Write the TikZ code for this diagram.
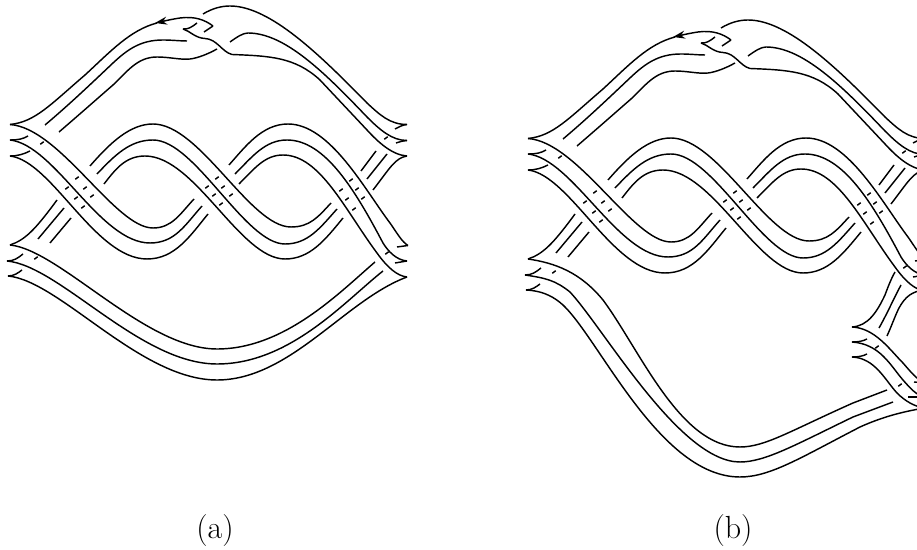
\documentclass[tikz,border=0pt]{standalone}
\usepackage{tikz}
\usetikzlibrary{arrows.meta}
\tikzset{
    strand/.style={line width=.72pt},
    lbl/.style={inner sep=0pt, font=\fontsize{16}{19}\selectfont},
    braid/.pic={
        % top arc
        \draw[strand] (10,124.5) .. controls (35,122) and (50,105) .. (85,75) .. controls (110,52) and (130,30) .. (157,23);
        \draw[strand, -{Stealth[length=6pt,width=4pt]}] (213,26) .. controls (205,20) and (195,16) .. (180,18) .. controls (170,19.5) and (160,22) .. (155,23);
        \draw[strand] (213,26) -- (204,32);
        \draw[strand] (45,125) .. controls (70,104) and (95,80) .. (113,63) .. controls (127,50) and (140,40) .. (163,40) .. controls (172,40) and (180,41) .. (187,41);
        \draw[strand] (59,132) .. controls (80,114) and (98,98) .. (113,85) .. controls (127,72) and (137,57) .. (157,57) .. controls (170,57) and (180,60) .. (190,59) .. controls (198,58) and (208,54) .. (217,49);
        \draw[strand] (183,29) .. controls (188,29.5) and (192,27) .. (197,23);
        \draw[strand] (183,29) .. controls (190,31) and (195,38) .. (205,38.5) .. controls (217,39) and (222,52) .. (232,54.5) .. controls (270,56) and (295,57) .. (320,80) .. controls (335,96) and (352,114) .. (367,130) .. controls (378,142) and (392,155) .. (407,156);
        \draw[strand] (203,14) .. controls (213,8) and (222,6) .. (230,6) .. controls (270,6) and (320,55) .. (367,103) .. controls (380,115) and (390,124.5) .. (407,124.5);
        \draw[strand] (407,124.5) .. controls (402,125) and (399,127) .. (395,129);
        \draw[strand] (230,42) .. controls (237,37) and (243,33) .. (248,33) .. controls (285,33) and (325,73) .. (367,117) .. controls (380,130) and (392,140.5) .. (407,140.5);
        \draw[strand] (407,140.5) .. controls (402,141) and (399,142) .. (396,143);
        % left cusps, first crossing
        \draw[strand] (10,124.5) .. controls (60,128) and (115,228) .. (153,228) .. controls (172,228) and (180,214) .. (194,199);
        \draw[strand] (10,140) .. controls (55,145) and (100,243) .. (150,243) .. controls (175,243) and (185,225) .. (202,206);
        \draw[strand] (10,156) .. controls (52,161) and (95,259) .. (147,259) .. controls (175,259) and (190,236) .. (208,214);
        \draw[strand] (10,140) .. controls (18,140) and (23,139) .. (28,136);
        \draw[strand] (10,156) .. controls (18,156) and (24,154) .. (30,151);
        % first crest
        \draw[strand] (90,166) .. controls (110,143) and (130,124) .. (153,124) .. controls (200,124) and (250,227) .. (291,227) .. controls (310,227) and (318,217) .. (331,203);
        \draw[strand] (97,174) .. controls (115,155) and (130,140) .. (153,140) .. controls (195,140) and (245,244) .. (285,244) .. controls (308,244) and (320,228) .. (337,209);
        \draw[strand] (104,184) .. controls (115,170) and (125,156) .. (145,156) .. controls (195,156) and (240,259) .. (285,259) .. controls (310,259) and (325,240) .. (343,218);
        % second crest
        \draw[strand] (229,165) .. controls (245,147) and (262,124) .. (288,124) .. controls (330,124) and (365,190) .. (390,223) .. controls (397,233) and (402,242) .. (408,245.5);
        \draw[strand] (235,174) .. controls (252,157) and (265,140) .. (287,140) .. controls (325,140) and (355,190) .. (383,243) .. controls (388,251) and (396,260) .. (407,261);
        \draw[strand] (239,184) .. controls (255,168) and (265,155) .. (283,155) .. controls (320,155) and (345,210) .. (377,253) .. controls (387,267) and (397,276) .. (407,277);
        \draw[strand] (408,245.5) -- (397,247);
        \draw[strand] (407,261) -- (395,263);
        % right strands behind
        \draw[strand] (376,151) -- (361,171);
        \draw[strand] (387,154) -- (367,179);
        \draw[strand] (407,156) .. controls (395,158) and (390,168) .. (373,190);
        % lower left strands behind
        \draw[strand] (10,245) .. controls (25,240) and (35,230) .. (57,200);
        \draw[strand] (64,208) -- (38,239);
        \draw[strand] (71,218) -- (50,243);
        \draw[strand] (7,261) .. controls (14,261) and (18,258) .. (23,254);
        \draw[strand] (8,276) .. controls (14,276) and (18,273) .. (22,270);
        % short pieces
        \foreach \x/\y in {42/143, 77/178, 67/188, 85/188, 76/198, 92/196, 83/207,
                           217/178, 207/187, 223/187, 214/195, 231/195, 221/204,
                           351/180, 341/190, 357/189, 347/199, 363/198, 354/209,
                           386/138, 387/253, 36/258}
            \draw[strand] (\x-1.7,\y+1.3) -- (\x+1.7,\y-1.3);
    }
}
\begin{document}
\begin{tikzpicture}[x=.5pt, y=-.5pt]
\clip (0,0) rectangle (917,550);
\pic at (0,0) {braid};
\pic at (518,14) {braid};
% bottom of (a)
\draw[strand] (10,245) .. controls (60,250) and (145,349) .. (217,349) .. controls (285,349) and (340,292) .. (375,262);
\draw[strand] (7,261) .. controls (60,266) and (140,364) .. (217,364) .. controls (290,364) and (345,301) .. (383,271);
\draw[strand] (8,276) .. controls (60,281) and (140,380) .. (217,380) .. controls (290,380) and (345,300) .. (407,277);
% bottom of (b)
\draw[strand] (528,259) .. controls (555,263) and (580,272) .. (603,300) .. controls (640,350) and (680,447) .. (740,447) .. controls (765,447) and (790,431) .. (853,403) -- (887,390);
\draw[strand] (525,275) .. controls (545,278) and (555,280) .. (570,292) .. controls (605,330) and (680,462) .. (740,462) .. controls (765,462) and (795,445) .. (853,417) -- (893,402);
\draw[strand] (526,290) .. controls (545,291) and (555,298) .. (563,305) .. controls (600,340) and (660,477) .. (740,477) .. controls (770,477) and (800,458) .. (860,427) .. controls (880,418) and (900,412) .. (925,408);
% extra piece of (b) at the right
\draw[strand] (852,327) .. controls (868,326) and (877,312) .. (885,295) .. controls (888,287) and (891,279) .. (895,272);
\draw[strand] (879,328) .. controls (887,314) and (894,298) .. (901,285);
\draw[strand] (925,290) .. controls (912,291) and (905,297) .. (899,308) .. controls (895,316) and (892,325) .. (887,336);
\draw[strand] (852,327) .. controls (875,328) and (890,350) .. (903,363) .. controls (910,371) and (917,380) .. (925,383);
\draw[strand] (852,342) .. controls (880,344) and (890,365) .. (903,380) .. controls (910,388) and (917,396) .. (925,397);
\draw[strand] (852,357) .. controls (875,358) and (885,380) .. (897,393) .. controls (905,401) and (915,407) .. (925,408);
\draw[strand] (852,342) .. controls (859,342) and (863,341) .. (867,339);
\draw[strand] (852,357) .. controls (859,357) and (863,356) .. (867,354);
\draw[strand] (925,383) -- (914,382);
\draw[strand] (925,397) -- (908,397);
\draw[strand] (875.3,348.3) -- (878.7,345.7);
\draw[strand] (898.3,386.3) -- (901.7,383.7);
% labels
\node[lbl] (lblA) at (215,531) {(a)};
\node[lbl] (lblB) at (733,531) {(b)};
\end{tikzpicture}
\end{document}
